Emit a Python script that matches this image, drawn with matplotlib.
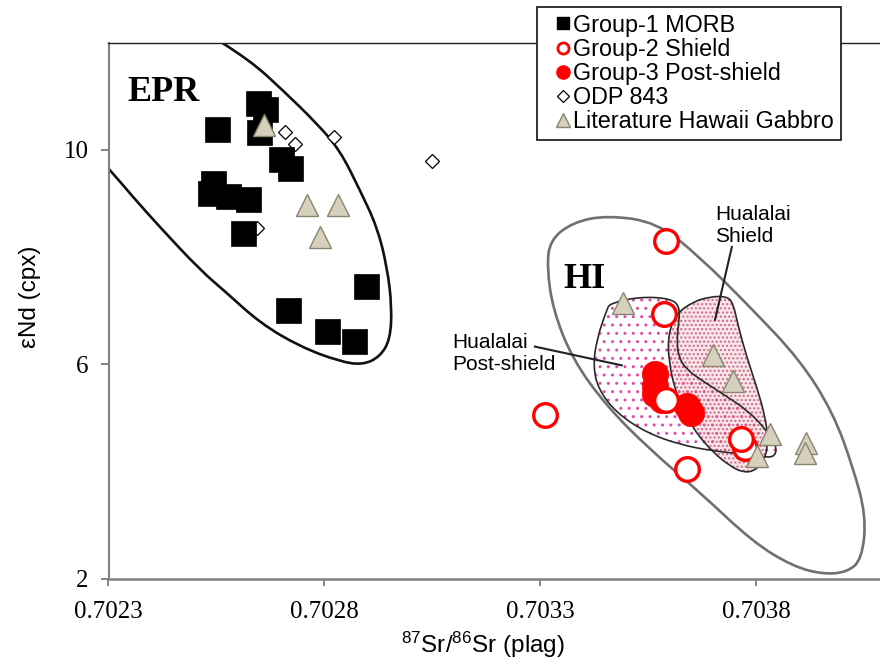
import matplotlib
matplotlib.use('Agg')
import matplotlib.pyplot as plt
import numpy as np
from matplotlib.path import Path
from matplotlib.patches import PathPatch
from matplotlib.lines import Line2D

# ---- data ----
# Group-1 MORB (black squares)
morb_sr = [0.702646, 0.702662, 0.702648, 0.702551, 0.702699, 0.702720, 0.702542,
           0.702535, 0.702577, 0.702623, 0.702611, 0.702896, 0.702716, 0.702806, 0.702868]
morb_nd = [10.87, 10.77, 10.34, 10.40, 9.84, 9.66, 9.38,
           9.19, 9.15, 9.08, 8.45, 7.46, 7.01, 6.62, 6.44]

# Group-2 Shield (open red circles)
shield_sr = [0.703590, 0.703587, 0.703310, 0.703638, 0.703773, 0.703763, 0.703590]
shield_nd = [8.30, 6.93, 5.06, 4.05, 4.43, 4.61, 5.34]

# Group-3 Post-shield (filled red circles)
post_sr = [0.703565, 0.703565, 0.703565, 0.703581, 0.703639, 0.703648]
post_nd = [5.82, 5.59, 5.45, 5.34, 5.23, 5.10]

# ODP 843 (open diamonds)
odp_sr = [0.702709, 0.702732, 0.702823, 0.703050, 0.702643]
odp_nd = [10.33, 10.12, 10.24, 9.79, 8.55]

# Literature Hawaii gabbro (triangles)
lit_sr = [0.702660, 0.702759, 0.702831, 0.702790, 0.703492, 0.703699,
          0.703745, 0.703831, 0.703802, 0.703915, 0.703912]
lit_nd = [10.46, 8.97, 8.97, 8.37, 7.14, 6.18, 5.68, 4.69, 4.29, 4.53, 4.35]

# field outlines
epr_sr = [0.702500, 0.702628, 0.702704, 0.702783, 0.702836, 0.702882, 0.702922,
          0.702945, 0.702956, 0.702952, 0.702928, 0.702889, 0.702836, 0.702743,
          0.702651, 0.702574, 0.702512, 0.702419, 0.702357, 0.702300, 0.702234, 0.702188]
epr_nd = [12.32, 11.67, 11.11, 10.49, 9.99, 9.25, 8.56,
          7.81, 7.07, 6.46, 6.14, 5.99, 6.05, 6.33,
          6.77, 7.33, 7.76, 8.56, 9.12, 9.66, 10.23, 12.32]

hi_sr = [0.703322, 0.703375, 0.703454, 0.703570, 0.703669, 0.703785, 0.703901,
         0.703977, 0.704023, 0.704054, 0.704044, 0.704010, 0.703954, 0.703884,
         0.703792, 0.703669, 0.703553, 0.703454, 0.703375, 0.703329, 0.703315]
hi_nd = [8.32, 8.65, 8.78, 8.65, 8.00, 7.07, 6.08,
         5.10, 4.09, 3.16, 2.36, 2.12, 2.08, 2.23,
         2.68, 3.61, 4.41, 5.21, 6.08, 7.01, 7.81]

hual_post_sr = [0.703461, 0.703530, 0.703600, 0.703623, 0.703619, 0.703616, 0.703619,
                0.703638, 0.703677, 0.703731, 0.703777, 0.703816, 0.703847, 0.703843,
                0.703824, 0.703777, 0.703700, 0.703623, 0.703546, 0.703476, 0.703434,
                0.703422, 0.703430, 0.703453]
hual_post_nd = [7.14, 7.26, 7.23, 7.08, 6.70, 6.46, 6.15,
                5.90, 5.68, 5.40, 5.15, 4.84, 4.47, 4.29,
                4.26, 4.32, 4.38, 4.50, 4.72, 5.09, 5.53,
                5.96, 6.46, 7.01]

hual_shield_sr = [0.703731, 0.703746, 0.703758, 0.703777, 0.703800, 0.703820, 0.703827,
                  0.703820, 0.703796, 0.703769, 0.703739, 0.703700, 0.703654, 0.703615,
                  0.703596, 0.703596, 0.703615, 0.703654, 0.703692]
hual_shield_nd = [7.27, 7.14, 6.70, 6.15, 5.59, 5.03, 4.60,
                  4.22, 4.01, 3.98, 4.10, 4.35, 4.78, 5.40,
                  6.08, 6.58, 6.95, 7.17, 7.26]

x_ticks = [0.7023, 0.7028, 0.7033, 0.7038]
x_ticklabels = ['0.7023', '0.7028', '0.7033', '0.7038']
y_ticks = [2, 6, 10]


def smooth_closed(xs, ys):
    # closed quadratic spline through the midpoints of the outline points
    pts = np.column_stack([xs, ys])
    mids = (pts + np.roll(pts, -1, axis=0)) / 2
    verts = [mids[-1]]
    codes = [Path.MOVETO]
    for i in range(len(pts)):
        verts += [pts[i], mids[i]]
        codes += [Path.CURVE3, Path.CURVE3]
    return Path(verts, codes)


plt.rcParams['font.family'] = 'Liberation Sans'
plt.rcParams['hatch.linewidth'] = 1.0

fig = plt.figure(figsize=(8.8, 6.64), dpi=100)
ax = fig.add_axes([108.5 / 880, 85.4 / 664, 771.5 / 880, 535.8 / 664])

# Hualalai fields
shield_path = smooth_closed(hual_shield_sr, hual_shield_nd)
post_path = smooth_closed(hual_post_sr, hual_post_nd)
ax.add_patch(PathPatch(shield_path, facecolor='#f8e4e9', edgecolor='none', zorder=1))
ax.add_patch(PathPatch(post_path, facecolor='none', edgecolor='#e04ea2', lw=0,
                       hatch='..', zorder=1.1))
ax.add_patch(PathPatch(shield_path, facecolor='none', edgecolor='#cc6a85', lw=0,
                       hatch='....', zorder=1.2))
ax.add_patch(PathPatch(post_path, facecolor='none', edgecolor='#2a2a2a', lw=1.2, zorder=2))
ax.add_patch(PathPatch(shield_path, facecolor='none', edgecolor='#2a2a2a', lw=1.2, zorder=2))

# EPR and HI fields
ax.add_patch(PathPatch(smooth_closed(epr_sr, epr_nd), facecolor='none',
                       edgecolor='#111111', lw=1.9, zorder=2))
ax.add_patch(PathPatch(smooth_closed(hi_sr, hi_nd), facecolor='none',
                       edgecolor='#707070', lw=1.9, zorder=2))

# leader lines
ax.plot([0.703287, 0.703488], [6.33, 5.98], color='#222222', lw=1.5, zorder=2.5)
ax.plot([0.703743, 0.703704], [8.19, 6.83], color='#222222', lw=1.5, zorder=2.5)

# data points
ax.plot(odp_sr, odp_nd, ls='none', marker='D', ms=7, mfc='white', mec='black',
        mew=0.9, zorder=3)
ax.plot(morb_sr, morb_nd, ls='none', marker='s', ms=18, mfc='black', mec='black',
        mew=0.5, zorder=4)
ax.plot(post_sr, post_nd, ls='none', marker='o', ms=19, mfc='#ff0000', mec='#ff0000',
        mew=0.5, zorder=4)
ax.plot(shield_sr, shield_nd, ls='none', marker='o', ms=17, mfc='white', mec='#ff0000',
        mew=2.4, zorder=5)
ax.plot(lit_sr, lit_nd, ls='none', marker='^', ms=15.5, mfc='#d6d1bd', mec='#8a8470',
        mew=1.0, zorder=6)

# field labels
ax.text(0.702428, 11.07, 'EPR', fontsize=26, fontweight='bold',
        family='Liberation Serif', ha='center', va='center')
ax.text(0.703401, 7.585, 'HI', fontsize=26, fontweight='bold',
        family='Liberation Serif', ha='center', va='center')
ax.text(0.703095, 6.205, 'Hualalai\nPost-shield', fontsize=15, ha='left', va='center')
ax.text(0.703704, 8.586, 'Hualalai\nShield', fontsize=15, ha='left', va='center')

ax.set_xlim(0.7023, 0.7040859)
ax.set_ylim(2, 12)
ax.set_xticks(x_ticks)
ax.set_xticklabels(x_ticklabels)
ax.set_yticks(y_ticks)
for lab in ax.get_xticklabels() + ax.get_yticklabels():
    lab.set_family('Liberation Serif')
    lab.set_fontsize(18)
ax.tick_params(axis='x', direction='out', length=5, width=1.2, color='#707070', pad=11)
ax.tick_params(axis='y', direction='out', length=5.5, width=1.2, color='#707070', pad=9)

ax.spines['right'].set_visible(False)
ax.spines['top'].set_color('#222222')
ax.spines['top'].set_linewidth(1.0)
ax.spines['left'].set_color('#808080')
ax.spines['left'].set_linewidth(1.5)
ax.spines['bottom'].set_color('#808080')
ax.spines['bottom'].set_linewidth(1.8)

ax.set_xlabel(r'$\mathregular{^{87}}$Sr/$\mathregular{^{86}}$Sr (plag)', fontsize=17.5)
ax.xaxis.set_label_coords(0.485, -0.095)
ax.set_ylabel('εNd (cpx)', fontsize=17.5)
ax.yaxis.set_label_coords(-0.088, 0.526)

handles = [
    Line2D([], [], ls='none', marker='s', ms=9, mfc='black', mec='black'),
    Line2D([], [], ls='none', marker='o', ms=8, mfc='white', mec='#ff0000', mew=2),
    Line2D([], [], ls='none', marker='o', ms=9.5, mfc='#ff0000', mec='#ff0000'),
    Line2D([], [], ls='none', marker='D', ms=6, mfc='white', mec='black', mew=0.9),
    Line2D([], [], ls='none', marker='^', ms=10, mfc='#d6d1bd', mec='#8a8470'),
]
labels = ['Group-1 MORB', 'Group-2 Shield', 'Group-3 Post-shield', 'ODP 843',
          'Literature Hawaii Gabbro']
leg = fig.legend(handles, labels, loc='upper left', bbox_to_anchor=(537 / 880, 1 - 7 / 664),
                 fontsize=16.8, frameon=True, fancybox=False, framealpha=1,
                 edgecolor='#222222', handlelength=1.7, handletextpad=-0.42,
                 borderpad=0.28, labelspacing=0.05, borderaxespad=0)
leg.get_frame().set_linewidth(1.3)
leg.set_zorder(10)

fig.savefig('out.png', dpi=100)
